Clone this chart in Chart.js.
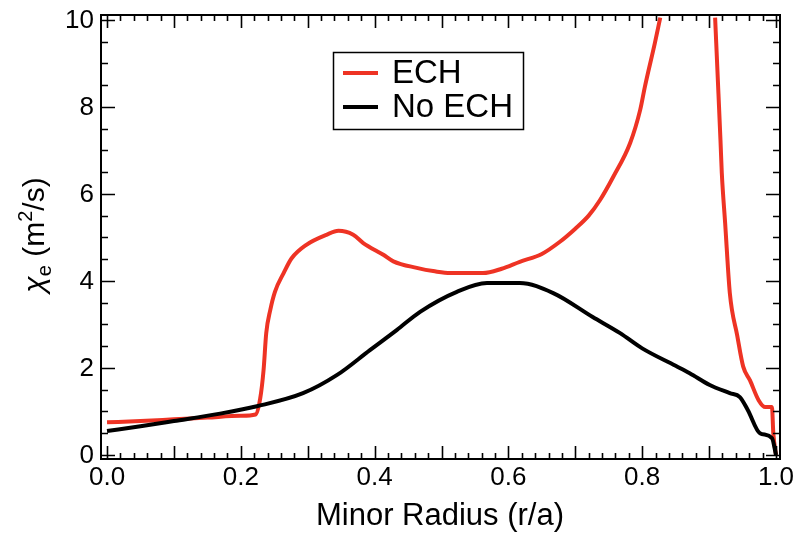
<!DOCTYPE html>
<html>
<head>
<meta charset="utf-8">
<script src="https://cdn.jsdelivr.net/npm/chart.js@4.4.0/dist/chart.umd.min.js"></script>
<style>
  html, body { margin: 0; padding: 0; background: #fff; }
  #wrap { width: 795px; height: 537px; }
</style>
</head>
<body>
<div id="wrap"><canvas id="chiChart"></canvas></div>
<script>
// valores
const echR = [0, 0.05, 0.1, 0.15, 0.2, 0.222, 0.229, 0.234, 0.238, 0.244, 0.251, 0.264, 0.276, 0.298, 0.328, 0.346, 0.368, 0.383, 0.413, 0.428, 0.463, 0.49, 0.513, 0.562, 0.59, 0.617, 0.65, 0.677, 0.70, 0.72, 0.737, 0.757, 0.782, 0.797, 0.804, 0.819, 0.827, 0.87, 0.909, 0.914, 0.917, 0.919, 0.924, 0.931, 0.942, 0.951, 0.961, 0.974, 0.984, 0.994, 0.996, 1.0];
const echChi = [0.75, 0.78, 0.82, 0.86, 0.9, 0.93, 1.3, 1.95, 2.8, 3.33, 3.75, 4.18, 4.52, 4.83, 5.06, 5.15, 5.06, 4.87, 4.6, 4.45, 4.3, 4.22, 4.18, 4.18, 4.28, 4.44, 4.62, 4.9, 5.2, 5.5, 5.86, 6.4, 7.17, 7.93, 8.46, 9.47, 10.05, null, 10.05, 8.3, 7.24, 6.48, 5.33, 3.72, 2.75, 2.03, 1.72, 1.26, 1.1, 1.1, 0.5, 0.0];

const noEchR = [0, 0.05, 0.1, 0.169, 0.224, 0.293, 0.344, 0.393, 0.433, 0.468, 0.523, 0.568, 0.617, 0.667, 0.726, 0.767, 0.8, 0.85, 0.871, 0.901, 0.931, 0.946, 0.958, 0.976, 0.994, 1.0];
const noEchChi = [0.55, 0.66, 0.78, 0.95, 1.12, 1.42, 1.84, 2.41, 2.87, 3.29, 3.75, 3.95, 3.95, 3.72, 3.17, 2.8, 2.45, 2.05, 1.88, 1.61, 1.42, 1.33, 1.03, 0.5, 0.39, 0.0];

const xTickLabels = ['0.0', '0.2', '0.4', '0.6', '0.8', '1.0'];
const yTickLabels = ['0', '2', '4', '6', '8', '10'];
const seriesNames = ['ECH', 'No ECH'];

const FONT = "'Liberation Sans', Arial, Helvetica, sans-serif";
const RED = '#ee3324';

const toPoints = (xs, ys) => xs.map((x, i) => ({ x: x, y: ys[i] }));

// Moldura, ticks para dentro, rótulos, títulos e legenda
const framePlugin = {
  id: 'frame',
  afterDraw(chart) {
    const ctx = chart.ctx;
    const a = chart.chartArea;
    const sx = chart.scales.x;
    const sy = chart.scales.y;
    ctx.save();
    ctx.strokeStyle = '#000';
    ctx.lineWidth = 2;
    ctx.strokeRect(a.left, a.top, a.right - a.left, a.bottom - a.top);

    ctx.lineWidth = 1.6;
    ctx.beginPath();
    for (let i = 0; i <= 50; i++) {
      const px = Math.round(sx.getPixelForValue(i * 0.02)) + 0.5;
      const len = (i % 5 === 0) ? 13 : 6;
      ctx.moveTo(px, a.bottom); ctx.lineTo(px, a.bottom - len);
      ctx.moveTo(px, a.top); ctx.lineTo(px, a.top + len);
    }
    for (let i = 0; i <= 20; i++) {
      const py = Math.round(sy.getPixelForValue(i * 0.5)) + 0.5;
      const len = (i % 4 === 0) ? 14 : 7;
      ctx.moveTo(a.left, py); ctx.lineTo(a.left + len, py);
      ctx.moveTo(a.right, py); ctx.lineTo(a.right - len, py);
    }
    ctx.stroke();

    ctx.fillStyle = '#000';
    ctx.font = '26px ' + FONT;
    ctx.textAlign = 'center';
    ctx.textBaseline = 'middle';
    xTickLabels.forEach(t => ctx.fillText(t, sx.getPixelForValue(parseFloat(t)), 478));
    ctx.textAlign = 'right';
    yTickLabels.forEach(t => ctx.fillText(t, 94, sy.getPixelForValue(parseFloat(t)) + 1));

    // título do eixo x
    ctx.font = '31px ' + FONT;
    ctx.textAlign = 'center';
    ctx.textBaseline = 'alphabetic';
    ctx.fillText('Minor Radius (r/a)', 440, 525);

    // título do eixo y: χe (m²/s)
    ctx.save();
    ctx.translate(44, 235);
    ctx.rotate(-Math.PI / 2);
    const parts = [
      { t: 'χ', f: 'italic 30px ', dy: 0 },
      { t: 'e', f: '20px ', dy: 7 },
      { t: ' (m', f: '30px ', dy: 0 },
      { t: '2', f: '20px ', dy: -12 },
      { t: '/s)', f: '30px ', dy: 0 }
    ];
    let w = 0;
    parts.forEach(p => { ctx.font = p.f + FONT; w += ctx.measureText(p.t).width; });
    let cx = -w / 2;
    ctx.textAlign = 'left';
    parts.forEach(p => {
      ctx.font = p.f + FONT;
      ctx.fillText(p.t, cx, p.dy);
      cx += ctx.measureText(p.t).width;
    });
    ctx.restore();

    // legenda
    ctx.fillStyle = '#fff';
    ctx.fillRect(334, 53, 189, 76);
    ctx.lineWidth = 1.5;
    ctx.strokeStyle = '#000';
    ctx.strokeRect(333.5, 52.5, 190, 77);
    ctx.lineWidth = 4;
    ctx.textAlign = 'left';
    ctx.textBaseline = 'middle';
    ctx.font = '33px ' + FONT;
    [[RED, 73], ['#000', 107]].forEach(([c, y], i) => {
      ctx.strokeStyle = c;
      ctx.beginPath(); ctx.moveTo(343, y); ctx.lineTo(378, y); ctx.stroke();
      ctx.fillStyle = '#000';
      ctx.fillText(seriesNames[i], 392, y + 1);
    });
    ctx.restore();
  }
};

new Chart(document.getElementById('chiChart'), {
  type: 'scatter',
  data: {
    datasets: [
      {
        label: seriesNames[1],
        data: toPoints(noEchR, noEchChi),
        showLine: true,
        borderColor: '#000',
        borderWidth: 4,
        pointRadius: 0,
        cubicInterpolationMode: 'monotone'
      },
      {
        label: seriesNames[0],
        data: toPoints(echR, echChi),
        showLine: true,
        spanGaps: false,
        borderColor: RED,
        borderWidth: 4,
        pointRadius: 0,
        cubicInterpolationMode: 'monotone'
      }
    ]
  },
  options: {
    responsive: true,
    maintainAspectRatio: false,
    animation: false,
    layout: { padding: { left: 101, right: 15, top: 15, bottom: 78 } },
    plugins: { legend: { display: false }, tooltip: { enabled: false } },
    scales: {
      x: { type: 'linear', min: -0.009, max: 1.006, display: false },
      y: { type: 'linear', min: -0.092, max: 10.11, display: false }
    }
  },
  plugins: [framePlugin]
});
</script>
</body>
</html>
